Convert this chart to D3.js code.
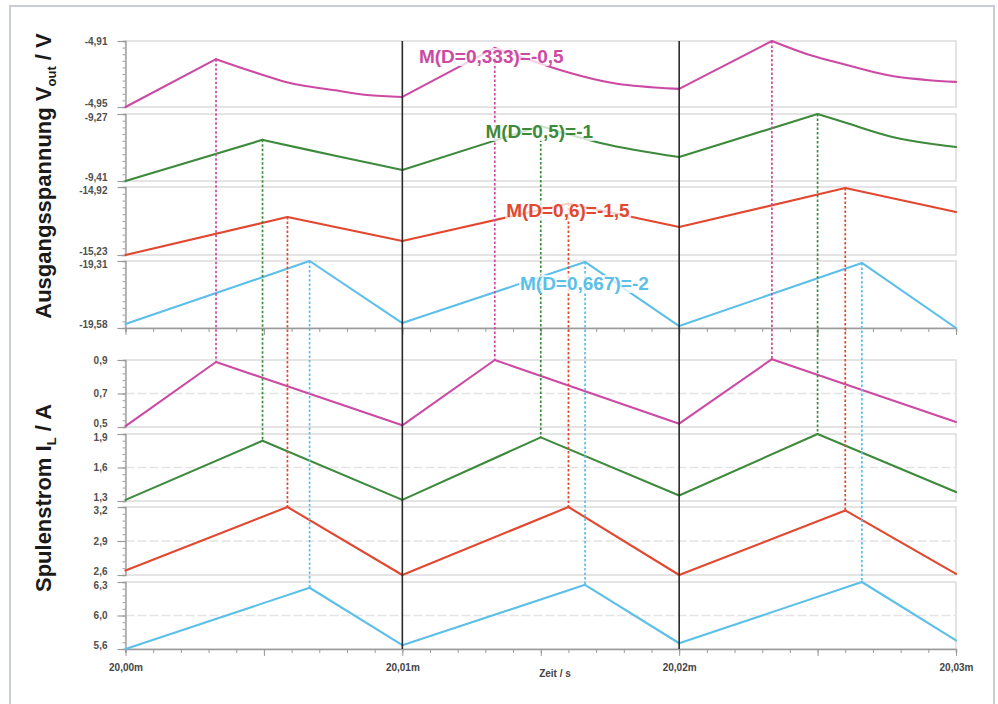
<!DOCTYPE html>
<html><head><meta charset="utf-8">
<script src="https://cdn.jsdelivr.net/npm/d3@7"></script>
<style>
body{margin:0;background:#fff}
svg{display:block}
text{font-family:"Liberation Sans",Arial,Helvetica,sans-serif}
</style>
</head><body>
<svg id="chart" width="998" height="704"></svg>
<script>
// ---------------- DATA ----------------
// time in microseconds after 20,00 ms
const timeTicks = [0, 10, 20, 30];
const timeTickLabels = ["20,00m", "20,01m", "20,02m", "20,03m"];
const xAxisTitle = "Zeit / s";

const seriesLabels = ["M(D=0,333)=-0,5", "M(D=0,5)=-1", "M(D=0,6)=-1,5", "M(D=0,667)=-2"];
const seriesColors = ["#cc4aa3", "#3e8a3c", "#e2472f", "#5cbfe9"];
const labelTimes = [10.6, 13.0, 13.75, 14.25];

const voutDomains = [[-4.95, -4.91], [-9.41, -9.27], [-15.23, -14.92], [-19.58, -19.31]];
const voutTickLabels = [["-4,95", "-4,91"], ["-9,41", "-9,27"], ["-15,23", "-14,92"], ["-19,58", "-19,31"]];
const ilDomains = [[0.5, 0.9], [1.3, 1.9], [2.6, 3.2], [5.6, 6.3]];
const ilTickLabels = [["0,5", "0,7", "0,9"], ["1,3", "1,6", "1,9"], ["2,6", "2,9", "3,2"], ["5,6", "6,0", "6,3"]];

// output voltage V_out per duty cycle  [t, value]
const voutD0333 = [[0,-4.950],[3.27,-4.921],[4.86,-4.930],[5.94,-4.9355],[7.5,-4.9397],[8.72,-4.9427],[10,-4.9439],
  [13.34,-4.9142],[14.6,-4.9215],[15.94,-4.9288],[17.6,-4.9355],[19.4,-4.9385],[20,-4.939],
  [23.35,-4.910],[24.72,-4.9185],[26.05,-4.9245],[27.7,-4.9312],[28.94,-4.9336],[30,-4.9348]];
const voutD05 = [[0,-9.410],[4.95,-9.324],[6.6,-9.345],[8.3,-9.366],[10,-9.387],
  [15.0,-9.295],[17.2,-9.331],[20,-9.360],
  [25.0,-9.270],[26.05,-9.289],[27.7,-9.318],[30,-9.339]];
const voutD06 = [[0,-15.230],[5.85,-15.057],[10,-15.166],[16.0,-14.995],[20,-15.102],[26.0,-14.925],[30,-15.034]];
const voutD0667 = [[0,-19.564],[6.65,-19.310],[10,-19.560],[16.6,-19.314],[20,-19.572],[26.6,-19.318],[30,-19.580]];

// inductor current I_L per duty cycle  [t, value]
const ilD0333 = [[0,0.505],[3.27,0.888],[10,0.51],[13.34,0.90],[20,0.52],[23.35,0.905],[30,0.53]];
const ilD05 = [[0,1.31],[4.95,1.84],[10,1.31],[15.0,1.87],[20,1.35],[25.0,1.90],[30,1.38]];
const ilD06 = [[0,2.64],[5.85,3.20],[10,2.60],[16.0,3.20],[20,2.60],[26.0,3.17],[30,2.61]];
const ilD0667 = [[0,5.60],[6.65,6.24],[10,5.64],[16.6,6.27],[20,5.66],[26.6,6.30],[30,5.69]];

const voutSeries = [voutD0333, voutD05, voutD06, voutD0667];
const ilSeries = [ilD0333, ilD05, ilD06, ilD0667];

// ---------------- LAYOUT ----------------
const svg = d3.select("#chart");
const X0 = 125.5, X1 = 956;
const voutY = [[41,107],[114,181],[187,255],[261,328]];
const ilY = [[360,427],[434,501],[507,575],[582,649]];
const labelBaselines = [63, 138, 217, 290];

const x = d3.scaleLinear().domain([0, 30]).range([X0, X1]);
const voutScales = voutDomains.map((d, i) => d3.scaleLinear().domain(d).range([voutY[i][1], voutY[i][0]]));
const ilScales = ilDomains.map((d, i) => d3.scaleLinear().domain(d).range([ilY[i][1], ilY[i][0]]));

// outer frame
svg.append("rect").attr("x", 10).attr("y", 6).attr("width", 984).attr("height", 720)
  .attr("fill", "#fff").attr("stroke", "#c9cdd5").attr("stroke-width", 2);

const gPanels = svg.append("g");
function drawPanel(scale, yr, domain, labels, withMid, first) {
  gPanels.append("rect").attr("x", X0).attr("y", yr[0]).attr("width", X1 - X0).attr("height", yr[1] - yr[0])
    .attr("fill", "none").attr("stroke", "#dedede").attr("stroke-width", 1.6);
  const mid = (domain[0] + domain[1]) / 2;
  if (withMid) {
    gPanels.append("line").attr("x1", X0).attr("x2", X1).attr("y1", scale(mid)).attr("y2", scale(mid))
      .attr("stroke", "#e4e4e4").attr("stroke-width", 1.5).attr("stroke-dasharray", "9,3");
  }
  const minor = d3.range(11).map(k => domain[0] + k * (domain[1] - domain[0]) / 10);
  const gm = gPanels.append("g").attr("transform", `translate(${X0},0)`)
    .call(d3.axisLeft(scale).tickValues(minor).tickSize(3).tickFormat(""));
  gm.select(".domain").attr("stroke", "#9a9a9a").attr("stroke-width", 1.3);
  gm.selectAll(".tick line").attr("stroke", "#a0a0a0");
  const majors = withMid ? [domain[0], mid, domain[1]] : [domain[0], domain[1]];
  const gM = gPanels.append("g").attr("transform", `translate(${X0},0)`)
    .call(d3.axisLeft(scale).tickValues(majors).tickSize(8).tickPadding(10)
      .tickFormat((d, k) => labels[k]));
  gM.select(".domain").remove();
  gM.selectAll(".tick line").attr("stroke", "#9a9a9a").attr("stroke-width", 1.2);
  const n = majors.length;
  gM.selectAll(".tick text").attr("fill", "#505050").attr("font-size", 10).attr("font-weight", "bold")
    .attr("font-family", "'Liberation Sans', Arial, sans-serif")
    .attr("dy", (d, k) => {
      if (k === 0) return "-0.05em";
      if (k === n - 1 && !first) return "0.62em";
      return "0.32em";
    });
}
voutScales.forEach((s, i) => drawPanel(s, voutY[i], voutDomains[i], voutTickLabels[i], false, i === 0));
ilScales.forEach((s, i) => drawPanel(s, ilY[i], ilDomains[i], ilTickLabels[i], true, i === 0));

function drawXAxis(yPos, withLabels) {
  const minorT = d3.range(0, 31, 1);
  const g1 = svg.append("g").attr("transform", `translate(0,${yPos})`)
    .call(d3.axisBottom(x).tickValues(minorT).tickSize(4).tickFormat(""));
  g1.select(".domain").attr("stroke", "#9a9a9a").attr("stroke-width", 1.5);
  g1.selectAll(".tick line").attr("stroke", "#9a9a9a");
  const g2 = svg.append("g").attr("transform", `translate(0,${yPos})`)
    .call(d3.axisBottom(x).tickValues([0, 5, 10, 15, 20, 25, 30]).tickSize(7).tickPadding(8)
      .tickFormat(d => withLabels ? (timeTicks.indexOf(d) >= 0 ? timeTickLabels[timeTicks.indexOf(d)] : "") : ""));
  g2.select(".domain").remove();
  g2.selectAll(".tick line").attr("stroke", "#9a9a9a");
  g2.selectAll(".tick text").attr("fill", "#444").attr("font-size", 10).attr("font-weight", "bold")
    .attr("font-family", "'Liberation Sans', Arial, sans-serif");
}
drawXAxis(voutY[3][1], false);
drawXAxis(ilY[3][1], true);

svg.append("text").attr("x", 555).attr("y", 677).attr("text-anchor", "middle")
  .attr("font-size", 10).attr("font-weight", "bold").attr("fill", "#444").text(xAxisTitle);

function splitSegments(data) {
  const segs = [];
  let cur = [data[0]];
  for (let k = 1; k < data.length; k++) {
    cur.push(data[k]);
    const isExt = k < data.length - 1 &&
      ((data[k][1] - data[k - 1][1]) * (data[k + 1][1] - data[k][1]) < 0);
    if (isExt) { segs.push(cur); cur = [data[k]]; }
  }
  segs.push(cur);
  return segs;
}
const gLines = svg.append("g");
function drawSeries(data, yScale, color) {
  const line = d3.line().x(d => x(d[0])).y(d => yScale(d[1])).curve(d3.curveMonotoneX);
  splitSegments(data).forEach(seg => {
    gLines.append("path").attr("d", line(seg)).attr("fill", "none")
      .attr("stroke", color).attr("stroke-width", 2.1).attr("stroke-linejoin", "round").attr("stroke-linecap", "round");
  });
}
voutSeries.forEach((data, i) => drawSeries(data, voutScales[i], seriesColors[i]));
ilSeries.forEach((data, i) => drawSeries(data, ilScales[i], seriesColors[i]));

function valueAt(data, t) {
  for (let k = 0; k < data.length - 1; k++) {
    if (t >= data[k][0] && t <= data[k + 1][0]) {
      const f = (t - data[k][0]) / (data[k + 1][0] - data[k][0]);
      return data[k][1] + f * (data[k + 1][1] - data[k][1]);
    }
  }
  return data[data.length - 1][1];
}
const gDots = svg.append("g");
ilSeries.forEach((data, i) => {
  data.forEach((p, k) => {
    if (k % 2 === 1) {
      const vv = valueAt(voutSeries[i], p[0]);
      gDots.append("line").attr("x1", x(p[0])).attr("x2", x(p[0]))
        .attr("y1", voutScales[i](vv)).attr("y2", ilScales[i](p[1]))
        .attr("stroke", seriesColors[i]).attr("stroke-width", 1.7).attr("stroke-dasharray", "2.5,2");
    }
  });
});

[10, 20].forEach(t => {
  svg.append("line").attr("x1", x(t)).attr("x2", x(t)).attr("y1", voutY[0][0]).attr("y2", ilY[3][1])
    .attr("stroke", "#2a2a2a").attr("stroke-width", 1.6);
});

const gLab = svg.append("g");
seriesLabels.forEach((lab, i) => {
  const t = gLab.append("text").attr("x", x(labelTimes[i])).attr("y", labelBaselines[i])
    .attr("font-size", 19).attr("font-weight", "bold").attr("fill", seriesColors[i]).text(lab);
  const bb = t.node().getBBox();
  gLab.insert("rect", "text").attr("x", bb.x - 1).attr("y", bb.y + 2).attr("width", bb.width + 2).attr("height", bb.height - 3)
    .attr("fill", "#fff").attr("opacity", 0.75);
});

function yTitle(cy, main, sub, rest) {
  const t = svg.append("text").attr("transform", `translate(51,${cy}) rotate(-90)`)
    .attr("text-anchor", "middle").attr("font-size", 22).attr("font-weight", "bold").attr("fill", "#1a1a1a");
  t.append("tspan").text(main);
  t.append("tspan").attr("font-size", 13).attr("dy", 5).text(sub);
  t.append("tspan").attr("dy", -5).text(rest);
}
yTitle(176, "Ausgangsspannung V", "out", " / V");
yTitle(498, "Spulenstrom I", "L", " / A");
</script>
</body></html>
